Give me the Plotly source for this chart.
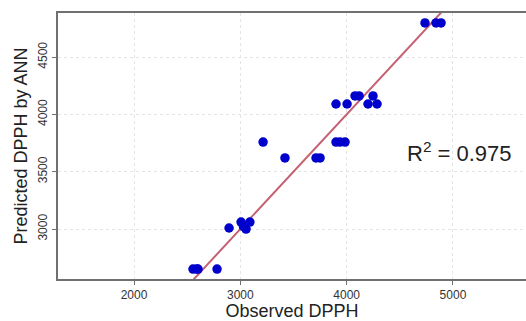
import plotly.graph_objects as go

observed = [2555, 2590, 2602, 2781, 2894, 3007, 3054, 3030, 3090, 3214, 3420,
            3712, 3750, 3900, 3938, 3985, 3900, 4004, 4079, 4117, 4201, 4248,
            4286, 4737, 4841, 4888]
predicted = [2651, 2651, 2651, 2651, 3009, 3061, 3000, 3020, 3061, 3759, 3620,
             3620, 3620, 3759, 3759, 3759, 4091, 4091, 4161, 4161, 4091, 4161,
             4091, 4798, 4798, 4798]
fit_line = [2400, 5000]
x_ticks = [2000, 3000, 4000, 5000]
y_ticks = [3000, 3500, 4000, 4500]
r2_text = "R<sup>2</sup> = 0.975"

fig = go.Figure()
fig.add_trace(go.Scatter(x=fit_line, y=fit_line, mode="lines",
                         line=dict(color="rgba(190,80,100,0.9)", width=2),
                         showlegend=False, hoverinfo="skip"))
fig.add_trace(go.Scatter(x=observed, y=predicted, mode="markers",
                         marker=dict(color="#0000CC", size=9.5,
                                     line=dict(width=0)),
                         showlegend=False))

fig.add_annotation(x=5060, y=3670, text=r2_text, showarrow=False,
                   xanchor="center", yanchor="middle",
                   font=dict(family="Liberation Sans, Arial", size=22,
                             color="#222222"))

axis_common = dict(showline=True, linecolor="#707070", linewidth=1.5,
                   ticks="outside", ticklen=4, tickcolor="#707070",
                   showgrid=True, gridcolor="#e4e4e4", griddash="dot",
                   gridwidth=1, zeroline=False,
                   tickfont=dict(family="Liberation Sans, Arial", size=12,
                                 color="#333333"))

fig.update_xaxes(range=[1285, 5687], tickvals=x_ticks, mirror=True,
                 title=dict(text="Observed DPPH", standoff=2,
                            font=dict(family="Liberation Sans, Arial",
                                      size=18, color="#222222")),
                 **axis_common)
fig.update_yaxes(range=[2564, 4885], tickvals=y_ticks, tickangle=-90,
                 title=dict(text="Predicted DPPH by ANN", standoff=4,
                            font=dict(family="Liberation Sans, Arial",
                                      size=18, color="#222222")),
                 **axis_common)

fig.update_layout(width=526, height=321,
                  margin=dict(l=58, r=0, t=13, b=42),
                  paper_bgcolor="white", plot_bgcolor="white")

fig.write_html("out.html")
